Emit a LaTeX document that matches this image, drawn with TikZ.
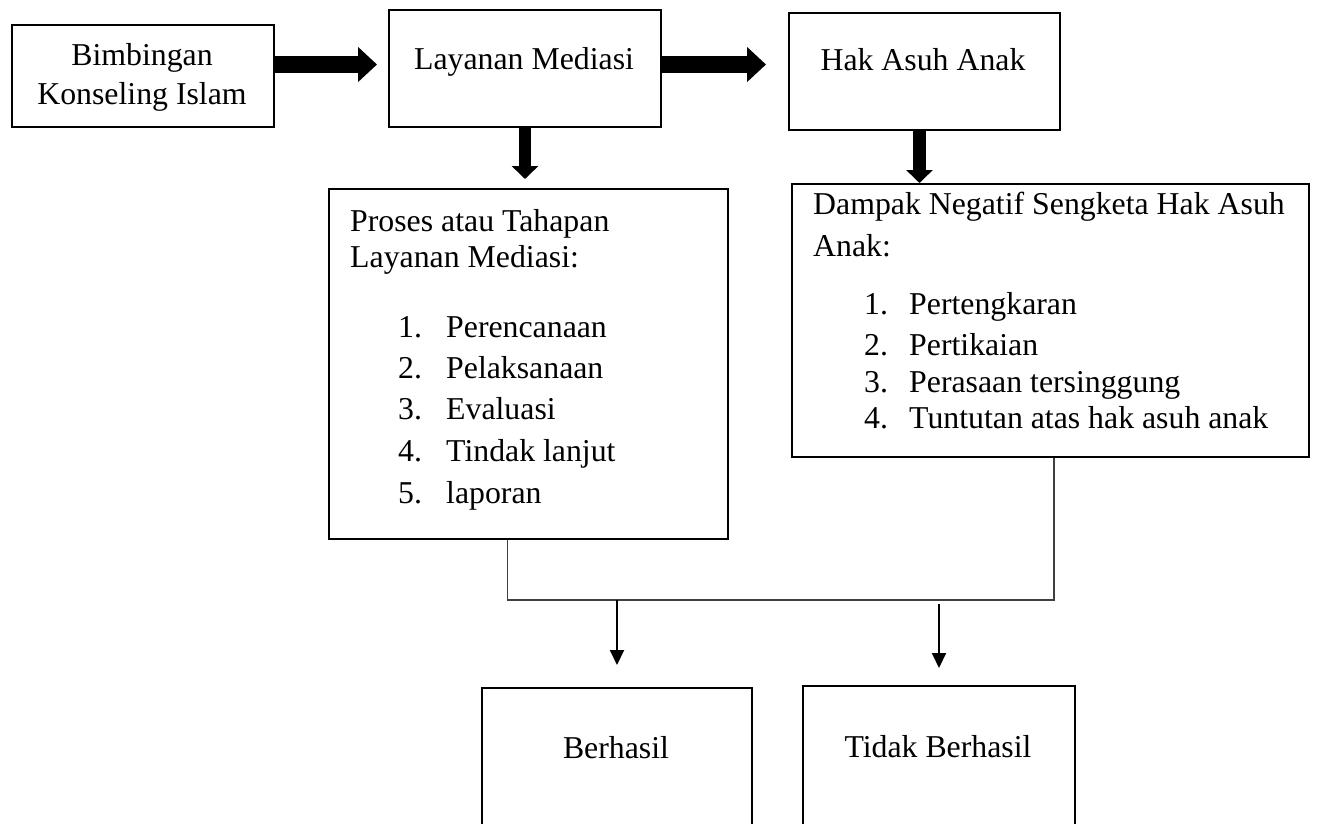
\documentclass[tikz,border=0pt]{standalone}
\usepackage{fontspec}
\setmainfont{Liberation Serif}
\usetikzlibrary{arrows.meta,calc}
\tikzset{
  box/.style={draw, line width=2pt, rectangle, inner sep=0pt, anchor=north west},
  txt/.style={inner sep=0pt, anchor=base, font=\fontsize{31.8}{39}\selectfont},
  txtl/.style={txt, anchor=base west},
  bigarrow/.style={line width=17pt, -{Triangle[length=19pt,width=34pt]}},
  downarrow/.style={line width=12.5pt, -{Triangle[length=13pt,width=26pt]}},
  conn/.style={line width=1.3pt, black!75},
  smallarrow/.style={line width=2pt, -{Triangle[length=15pt,width=14pt]}}
}
\begin{document}
\begin{tikzpicture}[x=1pt,y=-1pt]
\useasboundingbox (0,0) rectangle (1318,823);
\fill[white] (0,0) rectangle (1318,823);

% boxes
\node[box, minimum width=262pt, minimum height=102pt] (b1) at (11,24) {};
\node[box, minimum width=272pt, minimum height=117pt] (b2) at (388,9) {};
\node[box, minimum width=271pt, minimum height=117pt] (b3) at (788,12) {};
\node[box, minimum width=399pt, minimum height=350pt] (proses) at (328,188) {};
\node[box, minimum width=517pt, minimum height=273pt] (dampak) at (791,183) {};
\node[box, minimum width=270pt, minimum height=180pt] (berhasil) at (481,687) {};
\node[box, minimum width=272pt, minimum height=182pt] (tidak) at (802,685) {};

% texts
\node[txt] (t1a) at (142,65) {Bimbingan};
\node[txt] (t1b) at (142,104) {Konseling Islam};
\node[txt] (t2) at (524,69) {Layanan Mediasi};
\node[txt] (t3) at (923,70) {Hak Asuh Anak};

\node[txtl] (p0) at (350,231) {Proses atau Tahapan};
\node[txtl] (p00) at (350,267) {Layanan Mediasi:};
\node[txtl] (pn1) at (398,337) {1.}; \node[txtl] (pi1) at (446,337) {Perencanaan};
\node[txtl] (pn2) at (398,378) {2.}; \node[txtl] (pi2) at (446,378) {Pelaksanaan};
\node[txtl] (pn3) at (398,419) {3.}; \node[txtl] (pi3) at (446,419) {Evaluasi};
\node[txtl] (pn4) at (398,461) {4.}; \node[txtl] (pi4) at (446,461) {Tindak lanjut};
\node[txtl] (pn5) at (398,503) {5.}; \node[txtl] (pi5) at (446,503) {laporan};

\node[txtl] (d0) at (813,214) {Dampak Negatif Sengketa Hak Asuh};
\node[txtl] (d00) at (813,256) {Anak:};
\node[txtl] (dn1) at (864,314) {1.}; \node[txtl] (di1) at (909,314) {Pertengkaran};
\node[txtl] (dn2) at (864,355) {2.}; \node[txtl] (di2) at (909,355) {Pertikaian};
\node[txtl] (dn3) at (864,392) {3.}; \node[txtl] (di3) at (909,392) {Perasaan tersinggung};
\node[txtl] (dn4) at (864,428) {4.}; \node[txtl] (di4) at (909,428) {Tuntutan atas hak asuh anak};

\node[txt] (tb) at (616,758) {Berhasil};
\node[txt] (ttb) at (938,757) {Tidak Berhasil};

% thick arrows
\draw[bigarrow] ([yshift=11.5pt]b1.east) coordinate (a1s) -- ($(b2.west |- a1s)+(-11,0)$);
\draw[bigarrow] ([yshift=4pt]b2.east) coordinate (a2s) -- ($(b3.west |- a2s)+(-22,0)$);
\draw[downarrow] (b2.south) -- ($(b2.south |- proses.north)+(0,-9)$);
\draw[downarrow] ([xshift=-5pt]b3.south) coordinate (a4s) -- (a4s |- dampak.north);

% thin connectors
\draw[conn] ([xshift=-21pt]proses.south) -- ++(0,60) coordinate (jl) -| ([xshift=3.5pt]dampak.south);
\draw[smallarrow] (berhasil.north |- jl) -- ($(berhasil.north)+(0,-22)$);
\draw[smallarrow] ($(tidak.north |- jl)+(0,4)$) -- ($(tidak.north)+(0,-17)$);
\end{tikzpicture}
\end{document}
